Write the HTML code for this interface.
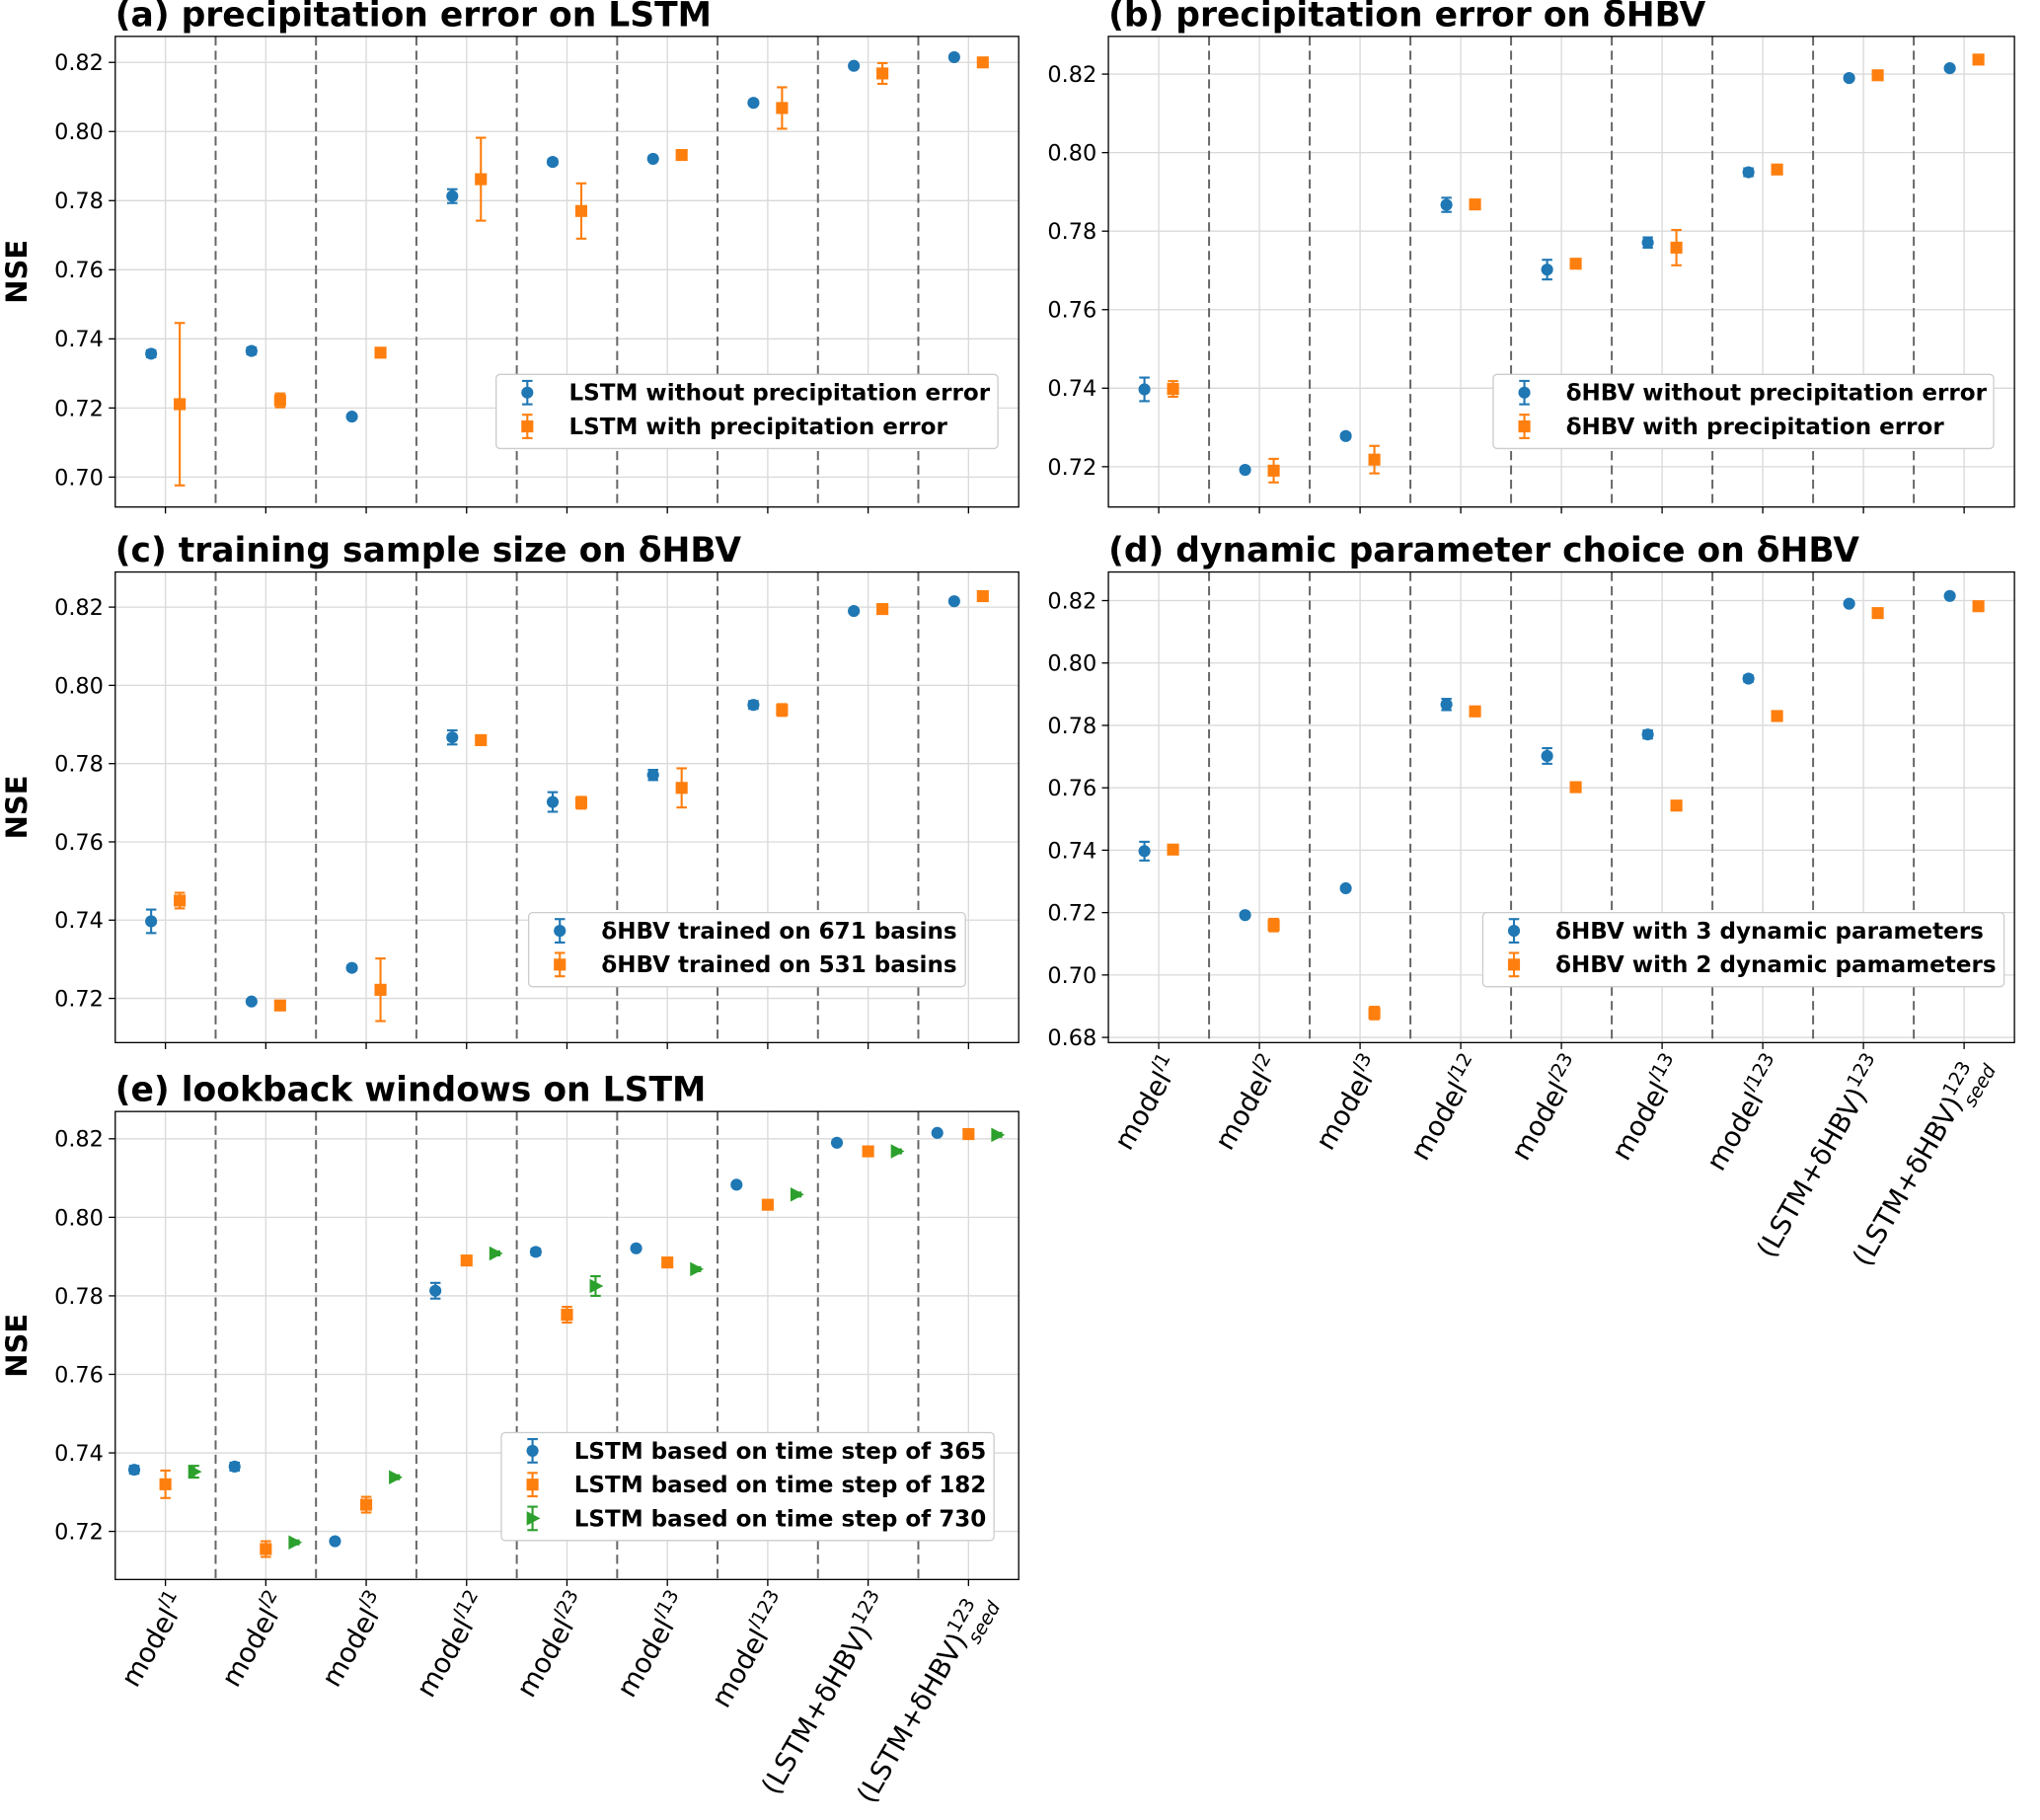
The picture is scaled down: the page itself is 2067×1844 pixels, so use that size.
<!DOCTYPE html>
<html><head><meta charset="utf-8"><style>html,body{margin:0;padding:0;background:#fff}svg{display:block}text{font-family:"DejaVu Sans","Liberation Sans",sans-serif}</style></head>
<body>
<svg id="fig" width="2067" height="1844" viewBox="0 0 1568 1400" xmlns="http://www.w3.org/2000/svg"></svg>
<script>
const categories = ["1","2","3","12","23","13","123","L","S"];
const aBlue = [0.7357,0.7365,0.7175,0.7813,0.7912,0.7921,0.8083,0.8190,0.8215];
const aBlueErr = [0.001,0.001,0.0005,0.002,0.0008,0.0005,0.0005,0.0005,0.0005];
const aOrange = [0.7211,0.7222,0.7360,0.7862,0.7770,0.7932,0.8068,0.8168,0.8200];
const aOrangeErr = [0.0235,0.002,0.0005,0.012,0.008,0.001,0.006,0.003,0.001];
const hBlue = [0.7397,0.7192,0.7278,0.7867,0.7702,0.7771,0.7950,0.8190,0.8215];
const hBlueErr = [0.003,0.0005,0.0006,0.0018,0.0025,0.0013,0.001,0.0005,0.0005];
const bOrange = [0.7398,0.7190,0.7218,0.7868,0.7717,0.7758,0.7957,0.8197,0.8237];
const bOrangeErr = [0.002,0.003,0.0035,0.0005,0.0005,0.0045,0.0005,0.0005,0.0005];
const cOrange = [0.7450,0.7182,0.7222,0.7860,0.7700,0.7738,0.7937,0.8195,0.8228];
const cOrangeErr = [0.002,0.0005,0.008,0.0005,0.0015,0.005,0.0015,0.0005,0.0005];
const dOrange = [0.7402,0.7160,0.6878,0.7845,0.7602,0.7543,0.7830,0.8160,0.8182];
const dOrangeErr = [0.001,0.002,0.002,0.0015,0.0005,0.001,0.0005,0.0005,0.0005];
const eOrange = [0.7320,0.7155,0.7268,0.7890,0.7752,0.7885,0.8032,0.8168,0.8212];
const eOrangeErr = [0.0035,0.002,0.002,0.0005,0.002,0.0005,0.0005,0.0005,0.0005];
const eGreen = [0.7352,0.7172,0.7338,0.7908,0.7825,0.7868,0.8058,0.8168,0.8210];
const eGreenErr = [0.0015,0.0005,0.0005,0.0005,0.0025,0.0005,0.0005,0.0005,0.0005];
const ticksA = [0.70,0.72,0.74,0.76,0.78,0.80,0.82];
const ticks72 = [0.72,0.74,0.76,0.78,0.80,0.82];
const ticksD = [0.68,0.70,0.72,0.74,0.76,0.78,0.80,0.82];

const NS="http://www.w3.org/2000/svg";
const svg=document.getElementById('fig');
function el(tag,attrs,parent){const e=document.createElementNS(NS,tag);for(const k in attrs)e.setAttribute(k,attrs[k]);(parent||svg).appendChild(e);return e;}
const BLUE="#1f77b4",ORANGE="#ff7f0e",GREEN="#2ca02c";

function panel(cfg){
  const g=el('g',{});
  
  
  const L=cfg.x0,R=cfg.x1,T=cfg.y0,B=cfg.y1;
  const bw=(R-L)/9;
  const xc=i=>L+bw*(i+0.5);
  const ys=v=>cfg.p1+(v-cfg.v1)*(cfg.p2-cfg.p1)/(cfg.v2-cfg.v1);
  for(let i=0;i<9;i++){const l=el('line',{x1:xc(i),x2:xc(i),y1:T,y2:B,stroke:'#d9d9d9','stroke-width':1},g);
    }
  cfg.ticks.forEach(t=>{const y=ys(t);
    const l=el('line',{x1:L,x2:R,y1:y,y2:y,stroke:'#d9d9d9','stroke-width':1},g);
    
    el('line',{x1:L-5,x2:L,y1:y,y2:y,stroke:'#000','stroke-width':1},g);
    const tx=el('text',{x:L-9,y:y+6,'text-anchor':'end','font-size':17},g);tx.textContent=t.toFixed(2);
    
  });
  for(let i=0;i<9;i++) el('line',{x1:xc(i),x2:xc(i),y1:B,y2:B+5,stroke:'#000'},g);
  for(let i=1;i<9;i++){const l=el('line',{x1:L+bw*i,x2:L+bw*i,y1:T,y2:B,stroke:'#666','stroke-width':1.5,'stroke-dasharray':'7,4'},g);
    }
  el('rect',{x:L,y:T,width:R-L,height:B-T,fill:'none',stroke:'#000','stroke-width':1},g);
  const tt=el('text',{x:L,y:T-8,'font-size':26.2,'font-weight':'bold'},g);tt.textContent=cfg.title;
  
  if(cfg.ylabel){const yl=el('text',{x:0,y:0,'font-size':22,'font-weight':'bold','text-anchor':'middle',transform:`translate(${L-68},${(T+B)/2}) rotate(-90)`},g);yl.textContent='NSE';
    }
  cfg.series.forEach(s=>{
    s.vals.forEach((v,i)=>{
      const x=xc(i)+s.off,y=ys(v),e=Math.abs(ys(v+s.err[i])-y);
      const sg=el('g',{},g);
      
      el('line',{x1:x,x2:x,y1:y-e,y2:y+e,stroke:s.color,'stroke-width':1.6},sg);
      el('line',{x1:x-4,x2:x+4,y1:y-e,y2:y-e,stroke:s.color,'stroke-width':1.6},sg);
      el('line',{x1:x-4,x2:x+4,y1:y+e,y2:y+e,stroke:s.color,'stroke-width':1.6},sg);
      marker(sg,s.shape,x,y,s.color);
    });
  });
  const lg=el('g',{},g);
  const n=cfg.series.length;
  el('rect',{x:cfg.lx,y:cfg.ly,width:cfg.lw,height:5+26*n,fill:'#fff',stroke:'#ccc',rx:3},lg);
  cfg.series.forEach((s,j)=>{
    const y=cfg.ly+14+26*j,x=cfg.lx+24;
    const eg=el('g',{},lg);
    el('line',{x1:x,x2:x,y1:y-9,y2:y+9,stroke:s.color,'stroke-width':1.6},eg);
    el('line',{x1:x-4,x2:x+4,y1:y-9,y2:y-9,stroke:s.color,'stroke-width':1.6},eg);
    el('line',{x1:x-4,x2:x+4,y1:y+9,y2:y+9,stroke:s.color,'stroke-width':1.6},eg);
    marker(eg,s.shape,x,y,s.color);
    const t=el('text',{x:x+32,y:y+6,'font-size':17.5,'font-weight':'bold'},eg);t.textContent=s.label;
  });
  if(cfg.xlabels) xlabels(g,xc,B);
}
function marker(g,shape,x,y,c){
  if(shape==='o') el('circle',{cx:x,cy:y,r:4.6,fill:c},g);
  else if(shape==='s') el('rect',{x:x-4.6,y:y-4.6,width:9.2,height:9.2,fill:c},g);
  else el('polygon',{points:`${x-4.5},${y-5.5} ${x+6},${y} ${x-4.5},${y+5.5}`,fill:c},g);
}
function xlabels(g,xc,B){
  for(let i=0;i<9;i++){
    const t=el('text',{x:0,y:0,'font-size':21,'text-anchor':'end',transform:`translate(${xc(i)+17},${B+16}) rotate(-60)`},g);
    
    const c=categories[i];
    if(c==='L'||c==='S'){
      t.appendChild(document.createTextNode('(LSTM+δHBV)'));
      const s1=el('tspan',{'font-size':14.5,dy:-9},t);s1.textContent='123';
      if(c==='S'){const s2=el('tspan',{'font-size':14.5,'font-style':'italic',dx:-27,dy:18},t);s2.textContent='seed';}
    } else {
      t.appendChild(document.createTextNode('model'));
      const s1=el('tspan',{'font-size':14.5,'font-style':'italic',dy:-9},t);s1.textContent='l';
      const s2=el('tspan',{'font-size':14.5},t);s2.textContent=c;
    }
  }
}
panel({name:'panel-a',title:'(a) precipitation error on LSTM',x0:88,x1:783,y0:28,y1:390,v1:0.70,p1:367,v2:0.82,p2:48,ticks:ticksA,ylabel:true,
 lx:381,ly:288,lw:386,series:[{key:'lstm-without-error',vals:aBlue,err:aBlueErr,off:-11,color:BLUE,shape:'o',label:'LSTM without precipitation error'},
 {key:'lstm-with-error',vals:aOrange,err:aOrangeErr,off:11,color:ORANGE,shape:'s',label:'LSTM with precipitation error'}]});
panel({name:'panel-b',title:'(b) precipitation error on δHBV',x0:852,x1:1549,y0:28,y1:390,v1:0.72,p1:359,v2:0.82,p2:57,ticks:ticks72,
 lx:1148,ly:288,lw:385,series:[{key:'hbv-without-error',vals:hBlue,err:hBlueErr,off:-11,color:BLUE,shape:'o',label:'δHBV without precipitation error'},
 {key:'hbv-with-error',vals:bOrange,err:bOrangeErr,off:11,color:ORANGE,shape:'s',label:'δHBV with precipitation error'}]});
panel({name:'panel-c',title:'(c) training sample size on δHBV',x0:88,x1:783,y0:440,y1:802,v1:0.72,p1:768,v2:0.82,p2:467,ticks:ticks72,ylabel:true,
 lx:406,ly:702,lw:336,series:[{key:'hbv-671',vals:hBlue,err:hBlueErr,off:-11,color:BLUE,shape:'o',label:'δHBV trained on 671 basins'},
 {key:'hbv-531',vals:cOrange,err:cOrangeErr,off:11,color:ORANGE,shape:'s',label:'δHBV trained on 531 basins'}]});
panel({name:'panel-d',title:'(d) dynamic parameter choice on δHBV',x0:852,x1:1549,y0:440,y1:802,v1:0.68,p1:798,v2:0.82,p2:462,ticks:ticksD,xlabels:true,
 lx:1140,ly:702,lw:401,series:[{key:'hbv-3-dynamic',vals:hBlue,err:hBlueErr,off:-11,color:BLUE,shape:'o',label:'δHBV with 3 dynamic parameters'},
 {key:'hbv-2-dynamic',vals:dOrange,err:dOrangeErr,off:11,color:ORANGE,shape:'s',label:'δHBV with 2 dynamic pamameters'}]});
panel({name:'panel-e',title:'(e) lookback windows on LSTM',x0:88,x1:783,y0:855,y1:1215,v1:0.72,p1:1178,v2:0.82,p2:876,ticks:ticks72,ylabel:true,xlabels:true,
 lx:385,ly:1102,lw:379,series:[{key:'lstm-365',vals:aBlue,err:aBlueErr,off:-24,color:BLUE,shape:'o',label:'LSTM based on time step of 365'},
 {key:'lstm-182',vals:eOrange,err:eOrangeErr,off:0,color:ORANGE,shape:'s',label:'LSTM based on time step of 182'},
 {key:'lstm-730',vals:eGreen,err:eGreenErr,off:22,color:GREEN,shape:'>',label:'LSTM based on time step of 730'}]});
</script>
</body></html>
